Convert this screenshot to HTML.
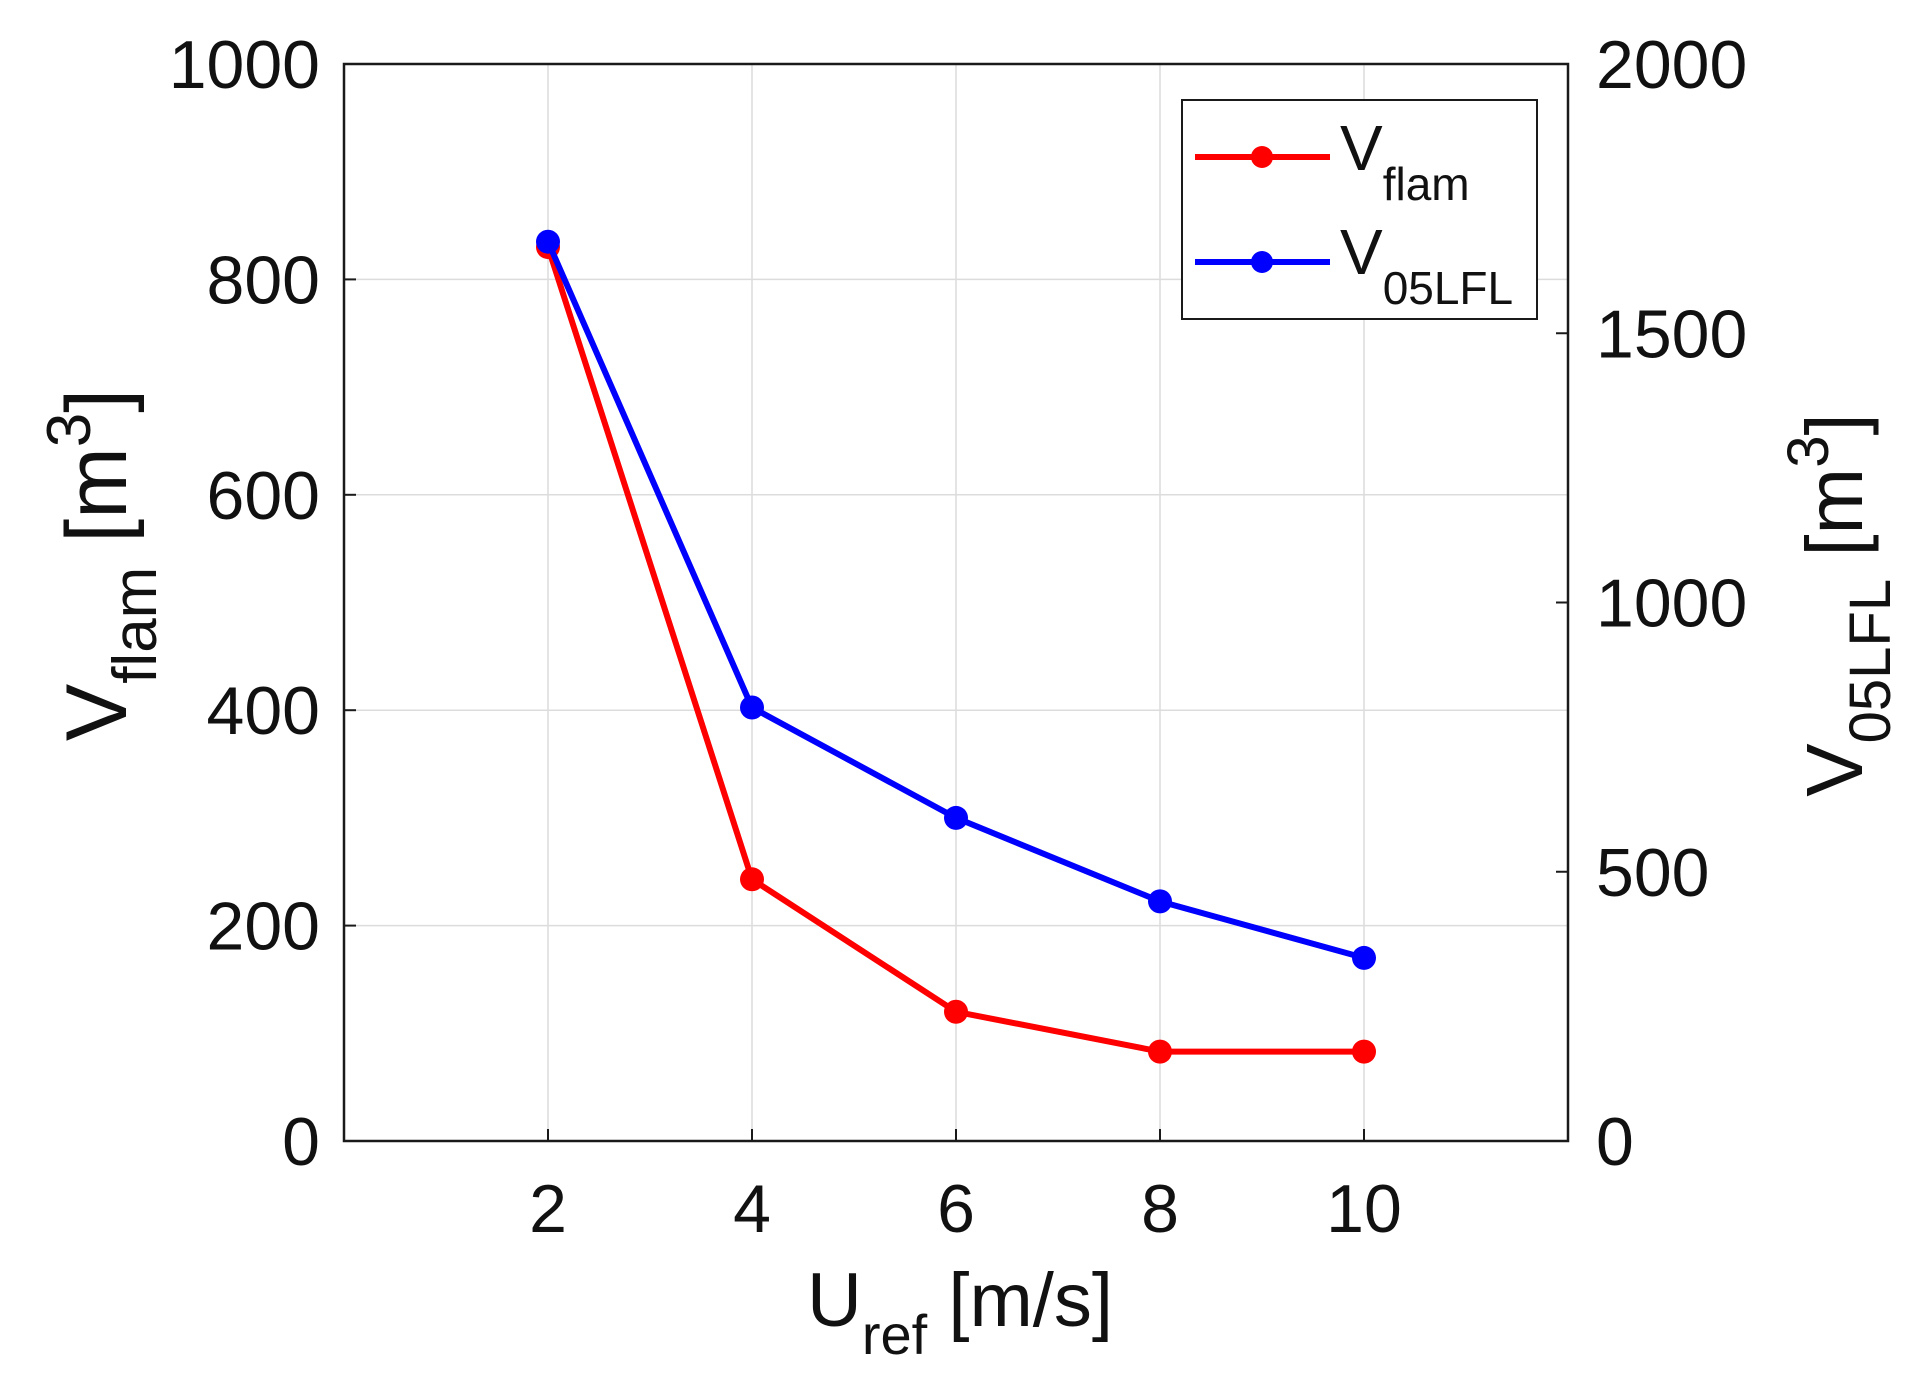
<!DOCTYPE html>
<html><head><meta charset="utf-8"><style>
html,body{margin:0;padding:0;background:#fff;}
svg{display:block;font-family:"Liberation Sans",Arial,sans-serif;}
</style></head><body>
<svg id="chart" width="1928" height="1395" viewBox="0 0 1928 1395" xmlns="http://www.w3.org/2000/svg">
<rect x="0" y="0" width="1928" height="1395" fill="#fff"/>
<g id="grid"></g>
<g id="series"></g>
<rect x="344" y="64" width="1224" height="1077" fill="none" stroke="#1a1a1a" stroke-width="2.5"/>
<g id="ticks"></g>
<text x="960" y="1326" font-size="76" text-anchor="middle" fill="#111">U<tspan font-size="56" dy="28">ref</tspan><tspan dy="-28"> [m/s]</tspan></text>
<text transform="translate(126,565) rotate(-90)" font-size="86" text-anchor="middle" fill="#111">V<tspan font-size="62" dy="30">flam</tspan><tspan dy="-30"> [m</tspan><tspan font-size="62" dy="-36">3</tspan><tspan dy="36">]</tspan></text>
<text transform="translate(1862,605) rotate(-90)" font-size="80" text-anchor="middle" fill="#111">V<tspan font-size="58" dy="28">05LFL</tspan><tspan dy="-28"> [m</tspan><tspan font-size="58" dy="-34">3</tspan><tspan dy="34">]</tspan></text>
<g>
<rect x="1182" y="100" width="355" height="219" fill="#fff" stroke="#1a1a1a" stroke-width="2"/>
<g>
<line x1="1195" y1="157" x2="1330" y2="157" stroke="#ff0000" stroke-width="6"/>
<circle cx="1262" cy="157" r="11" fill="#ff0000"/>
<text x="1340" y="170" font-size="64" fill="#111">V<tspan font-size="46" dy="30">flam</tspan></text>
</g>
<g>
<line x1="1195" y1="262" x2="1330" y2="262" stroke="#0000ff" stroke-width="6"/>
<circle cx="1262" cy="262" r="11" fill="#0000ff"/>
<text x="1340" y="274" font-size="64" fill="#111">V<tspan font-size="46" dy="30">05LFL</tspan></text>
</g>
</g>
</svg>
<script>
const xValues = [2, 4, 6, 8, 10];
const vFlam = [830, 243, 120, 83, 83];
const v05LFL = [1670, 805, 600, 445, 340];
const xTicks = [2, 4, 6, 8, 10];
const yLeftTicks = [0, 200, 400, 600, 800, 1000];
const yRightTicks = [0, 500, 1000, 1500, 2000];

const NS = 'http://www.w3.org/2000/svg';
const L = 344, R = 1568, T = 64, B = 1141;
function sx(v){ return L + (v - 0) / 12 * (R - L); }
function syL(v){ return B - v / 1000 * (B - T); }
function syR(v){ return B - v / 2000 * (B - T); }
function mk(tag, attrs, parent){ const e = document.createElementNS(NS, tag); for (const k in attrs) e.setAttribute(k, attrs[k]); parent.appendChild(e); return e; }
const grid = document.getElementById('grid');
const ticks = document.getElementById('ticks');
const series = document.getElementById('series');

xTicks.forEach(t => {
  const g = mk('line', {x1: sx(t), x2: sx(t), y1: T, y2: B, stroke: '#dcdcdc', 'stroke-width': 1.5}, grid);
  
  
  mk('line', {x1: sx(t), x2: sx(t), y1: B, y2: B - 12, stroke: '#1a1a1a', 'stroke-width': 2}, ticks);
  const tx = mk('text', {x: sx(t), y: 1232, 'font-size': 68, 'text-anchor': 'middle', fill: '#111'}, ticks);
  tx.textContent = t;
  
  
});
yLeftTicks.forEach(t => {
  const g = mk('line', {x1: L, x2: R, y1: syL(t), y2: syL(t), stroke: '#dcdcdc', 'stroke-width': 1.5}, grid);
  
  
  mk('line', {x1: L, x2: L + 12, y1: syL(t), y2: syL(t), stroke: '#1a1a1a', 'stroke-width': 2}, ticks);
  const tx = mk('text', {x: 320, y: syL(t) + 24, 'font-size': 68, 'text-anchor': 'end', fill: '#111'}, ticks);
  tx.textContent = t;
  
  
});
yRightTicks.forEach(t => {
  mk('line', {x1: R, x2: R - 12, y1: syR(t), y2: syR(t), stroke: '#1a1a1a', 'stroke-width': 2}, ticks);
  const tx = mk('text', {x: 1596, y: syR(t) + 24, 'font-size': 68, 'text-anchor': 'start', fill: '#111'}, ticks);
  tx.textContent = t;
  
  
});
function drawSeries(vals, sy, color, name){
  const pts = vals.map((v, i) => sx(xValues[i]) + ',' + sy(v)).join(' ');
  const pl = mk('polyline', {points: pts, fill: 'none', stroke: color, 'stroke-width': 6, 'stroke-linejoin': 'round'}, series);
  
  
  vals.forEach((v, i) => {
    const c = mk('circle', {cx: sx(xValues[i]), cy: sy(v), r: 12, fill: color}, series);
    
    
  });
}
drawSeries(vFlam, syL, '#ff0000', 'vflam');
drawSeries(v05LFL, syR, '#0000ff', 'v05lfl');
</script>
</body></html>
